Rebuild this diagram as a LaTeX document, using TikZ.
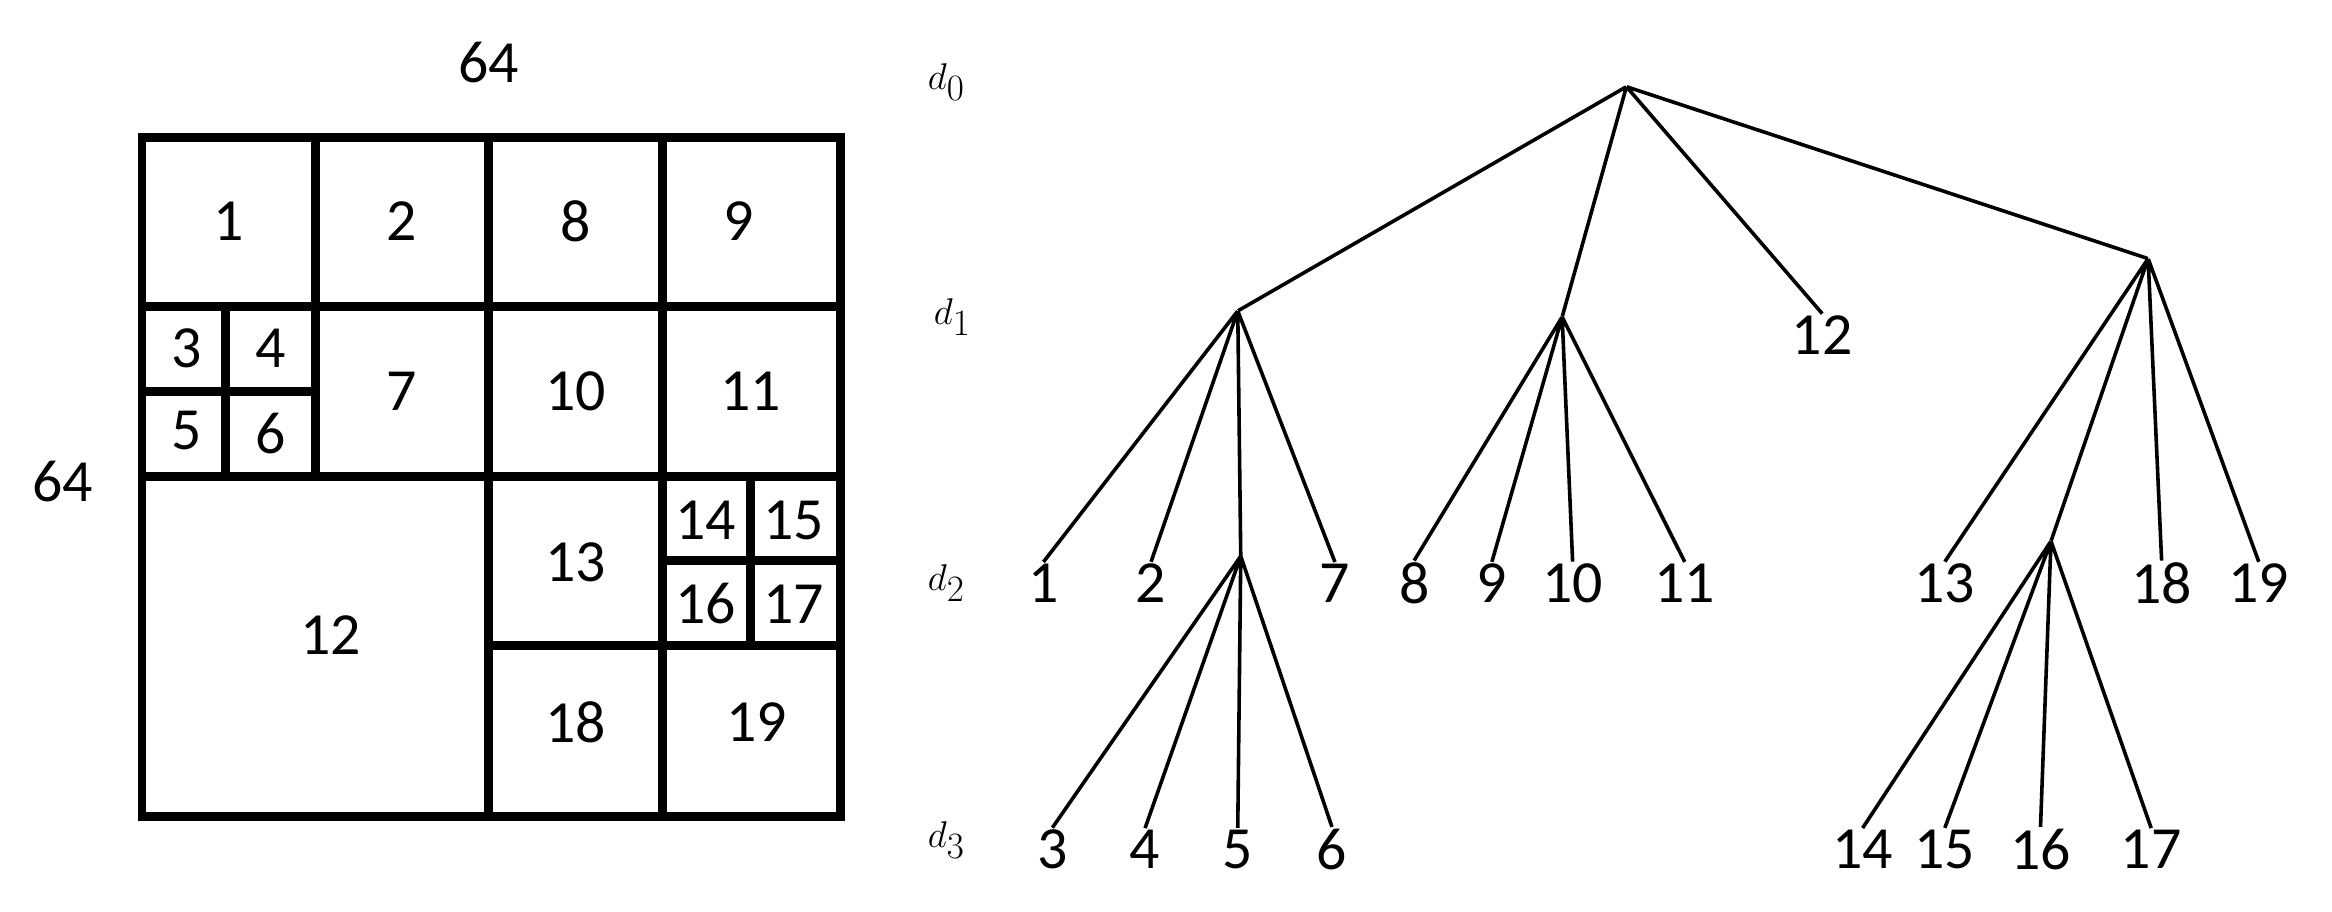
\documentclass[tikz,border=0pt]{standalone}
\usepackage{fontspec}
\setmainfont{Carlito}
\begin{document}
\begin{tikzpicture}[x=1pt,y=-1pt,
 lab/.style={font=\fontsize{40}{46}\selectfont,inner sep=1pt},
 dl/.style={font=\fontsize{40}{46}\selectfont},
 box/.style={line width=6pt},
 edge/.style={line width=2.4pt},
 pt/.style={inner sep=0pt,minimum size=0pt}]
\useasboundingbox (0,0) rectangle (1560,610);
% quadtree
\draw[box] (95,92) rectangle (562,546);
\draw[box] (95,205)--(562,205) (95,319)--(562,319);
\draw[box] (211,92)--(211,319) (327,92)--(327,546) (443,92)--(443,546);
\draw[box] (327,432)--(562,432);
\draw[box] (151,205)--(151,319) (95,262)--(211,262);
\draw[box] (502,319)--(502,432) (443,375)--(562,375);
\node[lab] (q1) at (153,148) {1};
\node[lab] (q2) at (269,148) {2};
\node[lab] (q8) at (385,148) {8};
\node[lab] (q9) at (494,148) {9};
\node[lab] (q3) at (125,233) {3};
\node[lab] (q4) at (181,233) {4};
\node[lab] (q5) at (125,288) {5};
\node[lab] (q6) at (181,290) {6};
\node[lab] (q7) at (269,262) {7};
\node[lab] (q10) at (385,262) {10};
\node[lab] (q11) at (502,262) {11};
\node[lab] (q12) at (221,425) {12};
\node[lab] (q13) at (385,376) {13};
\node[lab] (q14) at (472,348) {14};
\node[lab] (q15) at (531,348) {15};
\node[lab] (q16) at (472,404) {16};
\node[lab] (q17) at (531,404) {17};
\node[lab] (q18) at (385,483) {18};
\node[lab] (q19) at (506,483) {19};
\node[lab] (w) at (327,42) {64};
\node[lab] (h) at (42,322) {64};
% depth labels
\node[dl] (d0) at (633,55) {$d_0$};
\node[dl] (d1) at (637,212) {$d_1$};
\node[dl] (d2) at (633,390) {$d_2$};
\node[dl] (d3) at (633,562) {$d_3$};
% tree
\node[pt] (r) at (1088,58) {};
\node[pt] (A) at (828,208) {};
\node[pt] (B) at (1045,212) {};
\node[pt] (C) at (1437,173) {};
\node[pt] (D) at (830,372) {};
\node[pt] (E) at (1372,362) {};
\node[lab] (t12) at (1219,224) {12};
\node[lab] (t1) at (698,390) {1};
\node[lab] (t2) at (770,390) {2};
\node[lab] (t7) at (893,390) {7};
\node[lab] (t8) at (946,390) {8};
\node[lab] (t9) at (998,390) {9};
\node[lab] (t10) at (1052,390) {10};
\node[lab] (t11) at (1127,390) {11};
\node[lab] (t13) at (1301,390) {13};
\node[lab] (t18) at (1446,390) {18};
\node[lab] (t19) at (1511,390) {19};
\node[lab] (t3) at (704,568) {3};
\node[lab] (t4) at (766,568) {4};
\node[lab] (t5) at (828,568) {5};
\node[lab] (t6) at (891,568) {6};
\node[lab] (t14) at (1246,568) {14};
\node[lab] (t15) at (1301,568) {15};
\node[lab] (t16) at (1365,568) {16};
\node[lab] (t17) at (1439,568) {17};
\draw[edge] (r)--(A) (r)--(B) (r)--(t12.north) (r)--(C);
\draw[edge] (A)--(t1.north) (A)--(t2.north) (A)--(D) (A)--(t7.north);
\draw[edge] (B)--(t8.north) (B)--(t9.north) (B)--(t10.north) (B)--(t11.north);
\draw[edge] (C)--(t13.north) (C)--(E) (C)--(t18.north) (C)--(t19.north);
\draw[edge] (D)--(t3.north) (D)--(t4.north) (D)--(t5.north) (D)--(t6.north);
\draw[edge] (E)--(t14.north) (E)--(t15.north) (E)--(t16.north) (E)--(t17.north);
\end{tikzpicture}
\end{document}
